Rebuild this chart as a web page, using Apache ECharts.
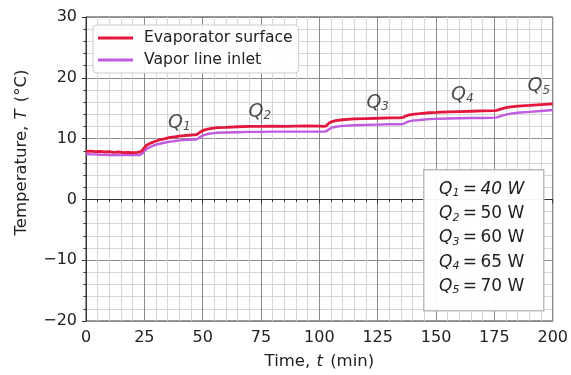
<!DOCTYPE html>
<html><head><meta charset="utf-8">
<script src="https://cdn.jsdelivr.net/npm/echarts@6/dist/echarts.min.js"></script>
<style>html,body{margin:0;padding:0;background:#fff}#c{width:571px;height:375px}</style>
</head><body><div id="c"></div>
<script>
const times = [0,2,4,6,8,10,12,14,16,18,20,22,23,24,25,26,27,28,30,32,34,36,38,40,42,44,46,47,48,49,50,52,54,56,60,65,70,75,80,85,90,95,100,102,103,104,105,107,110,115,120,125,130,134,136,137,138,140,143,147,150,155,160,165,170,175,176,178,180,182,185,190,195,200];
const evaporator = [7.9,7.95,7.85,7.9,7.8,7.85,7.75,7.8,7.7,7.75,7.7,7.75,7.8,8.0,8.5,8.9,9.1,9.3,9.6,9.85,10.0,10.2,10.3,10.4,10.5,10.55,10.6,10.6,10.8,11.1,11.3,11.55,11.7,11.8,11.85,11.95,12.0,12.0,12.05,12.0,12.05,12.1,12.05,12.0,12.1,12.5,12.75,12.95,13.1,13.25,13.3,13.35,13.4,13.4,13.5,13.7,13.85,14.0,14.1,14.25,14.3,14.4,14.45,14.5,14.55,14.6,14.65,14.9,15.1,15.2,15.35,15.45,15.6,15.7];
const vaporInlet = [7.45,7.4,7.4,7.35,7.35,7.3,7.3,7.3,7.3,7.3,7.3,7.3,7.3,7.5,7.9,8.3,8.5,8.7,9.0,9.2,9.35,9.5,9.6,9.7,9.75,9.8,9.85,9.85,10.0,10.3,10.5,10.75,10.85,10.95,11.0,11.05,11.1,11.1,11.15,11.15,11.15,11.15,11.15,11.15,11.2,11.5,11.75,11.95,12.1,12.2,12.25,12.3,12.35,12.35,12.4,12.6,12.8,12.95,13.05,13.2,13.25,13.3,13.35,13.4,13.4,13.45,13.5,13.75,13.95,14.1,14.25,14.4,14.55,14.7];
const seriesNames = ['Evaporator surface','Vapor line inlet'];
const qLabels = ['1','2','3','4','5'];
const qPowers = ['40 W','50 W','60 W','65 W','70 W'];
const qLabelPos = [[40,12.6],[74.5,14.4],[125,15.9],[161.3,17.2],[194,18.6]];
const xTicks = {min:0,max:200,interval:25};
const yTicks = {min:-20,max:30,interval:10};

const font = 'DejaVu Sans';
const chart = echarts.init(document.getElementById('c'), null, {renderer:'canvas'});
const pair = (arr) => times.map((t,i)=>[t,arr[i]]);
function qRich(size, sub){
  return {
    q:{fontFamily:font,fontStyle:'italic',fontSize:size,color:'#222',lineHeight:size+6,verticalAlign:'middle'},
    s:{fontFamily:font,fontStyle:'italic',fontSize:sub,color:'#222',lineHeight:sub,padding:[Math.round(size*0.45),0,0,0],verticalAlign:'middle'},
    t:{fontFamily:font,fontSize:size,color:'#222',lineHeight:size+6,verticalAlign:'middle'},
    ti:{fontFamily:font,fontStyle:'italic',fontSize:size,color:'#222',lineHeight:size+6,verticalAlign:'middle'}
  };
}
const option = {
  animation:false,
  backgroundColor:'#fff',
  grid:{left:86,right:15,top:17,bottom:52,show:true,borderColor:'#333',borderWidth:1,backgroundColor:'transparent'},
  legend:{
    left:93, top:25, orient:'vertical', itemGap:6, itemWidth:35, itemHeight:3,
    padding:[5,6,5,5], borderColor:'#ccc', borderWidth:1, borderRadius:4, backgroundColor:'rgba(255,255,255,0.9)',
    textStyle:{fontFamily:font,fontSize:15.6,color:'#222',padding:[0,0,0,6]},
    data:[{name:seriesNames[0],icon:'rect'},{name:seriesNames[1],icon:'rect'}]
  },
  xAxis:{type:'value',min:xTicks.min,max:xTicks.max,interval:xTicks.interval,
    name:'Time, {i|t} (min)',nameLocation:'middle',nameGap:32,
    nameTextStyle:{fontFamily:font,fontSize:16.5,color:'#222',rich:{i:{fontFamily:font,fontSize:16.5,fontStyle:'italic',color:'#222',padding:[0,2,0,1]}}},
    axisLine:{show:true,lineStyle:{color:'#333',width:1}},
    axisTick:{show:true,length:4,lineStyle:{color:'#333'}},
    minorTick:{show:true,splitNumber:5,length:2.5,lineStyle:{color:'#333'}},
    axisLabel:{fontFamily:font,fontSize:16,color:'#222',margin:9},
    splitLine:{show:true,lineStyle:{color:'#8a8a8a',width:1}},
    minorSplitLine:{show:true,lineStyle:{color:'#d6d6d6',width:1}}
  },
  yAxis:{type:'value',min:yTicks.min,max:yTicks.max,interval:yTicks.interval,
    axisLine:{show:true,lineStyle:{color:'#333',width:1}},
    axisTick:{show:true,length:4,lineStyle:{color:'#333'}},
    minorTick:{show:true,splitNumber:5,length:2.5,lineStyle:{color:'#333'}},
    axisLabel:{fontFamily:font,fontSize:16,color:'#222',margin:9,
      formatter:(v)=> v<0 ? '\u2212'+Math.abs(v) : String(v)},
    splitLine:{show:true,lineStyle:{color:'#8a8a8a',width:1}},
    minorSplitLine:{show:true,lineStyle:{color:'#d6d6d6',width:1}}
  },
  series:[
    {name:seriesNames[0],type:'line',data:pair(evaporator),showSymbol:false,symbol:'none',z:4,
      itemStyle:{color:'#e3163c'},lineStyle:{color:'#e3163c',width:2.8}},
    {name:seriesNames[1],type:'line',data:pair(vaporInlet),showSymbol:false,symbol:'none',z:3,
      itemStyle:{color:'#c05ade'},lineStyle:{color:'#c05ade',width:2.4}},
    {name:'qlabels',type:'scatter',symbolSize:0,silent:true,z:5,
      data:qLabelPos.map((p,i)=>({value:p,label:{formatter:'{q|Q}{s|'+qLabels[i]+'}'}})),
      label:{show:true,position:'inside',color:'#222',textBorderWidth:0,rich:qRich(19,12)}}
  ]
};
chart.setOption(option);

const boxLines = qLabels.map((s,i)=> i===0
  ? '{q|Q}{s|'+s+'}{t|\u2009=\u2009}{ti|'+qPowers[i]+'}'
  : '{q|Q}{s|'+s+'}{t|\u2009=\u2009'+qPowers[i]+'}');
const boxRich = qRich(17,11);
Object.keys(boxRich).forEach(k=>{ if(k!=='s') boxRich[k].lineHeight = 24.2; });
chart.setOption({graphic:[
  {type:'text',x:22,y:152.5,rotation:Math.PI/2,z:11,
    style:{text:'Temperature, {i|T} (°C)',align:'center',verticalAlign:'middle',
      font:'16.5px "DejaVu Sans"',fill:'#222',
      rich:{i:{fontFamily:font,fontSize:16.5,fontStyle:'italic',fill:'#222',padding:[0,2,0,1]}}}},
  {type:'rect',left:423,top:169,shape:{width:120,height:141},style:{fill:'rgba(255,255,255,0.95)',stroke:'#bbb',lineWidth:1.5},z:10},
  {type:'text',left:439,top:180,z:11,style:{text:boxLines.join('\n'),rich:boxRich,fill:'#222'}}
]});
</script></body></html>
